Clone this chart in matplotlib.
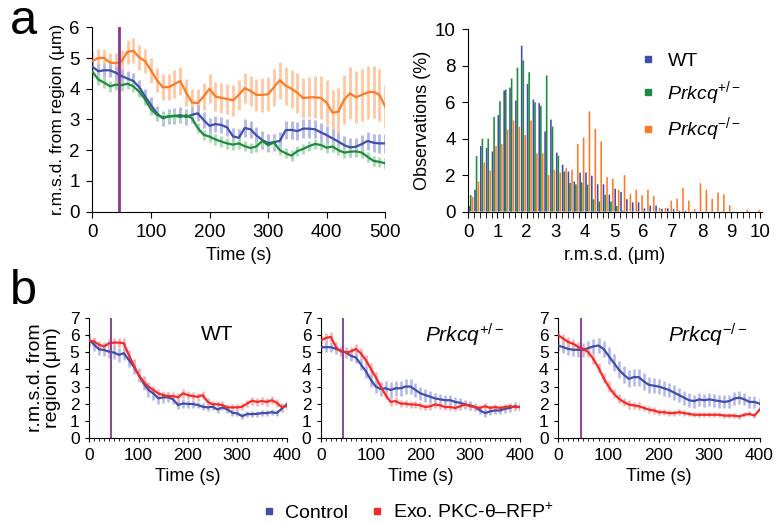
import numpy as np
import matplotlib
matplotlib.use("Agg")
import matplotlib.pyplot as plt
from matplotlib.lines import Line2D

plt.rcParams['font.family'] = ['Liberation Sans', 'DejaVu Sans']
plt.rcParams['mathtext.fontset'] = 'custom'
plt.rcParams['mathtext.rm'] = 'Liberation Sans'
plt.rcParams['mathtext.it'] = 'Liberation Sans:italic'

# ---- panel a, left: r.m.s.d. over time (10 s steps, 0-500 s)
time_a = list(range(0, 501, 10))
wt_a = [4.72, 4.57, 4.60, 4.60, 4.52, 4.41, 4.33, 4.25, 4.05, 3.75,
        3.47, 3.20, 3.04, 3.10, 3.11, 3.14, 3.08, 3.15, 3.20, 2.98,
        2.79, 2.85, 2.82, 2.74, 2.45, 2.40, 2.72, 2.68, 2.48, 2.33,
        2.23, 2.26, 2.30, 2.65, 2.66, 2.62, 2.70, 2.70, 2.68, 2.58,
        2.49, 2.38, 2.28, 2.16, 2.09, 2.11, 2.20, 2.30, 2.24, 2.22,
        2.22]
het_a = [4.56, 4.30, 4.20, 4.08, 4.13, 4.12, 4.16, 4.08, 3.90, 3.65,
         3.33, 3.15, 3.07, 3.10, 3.12, 3.08, 3.14, 3.04, 2.72, 2.50,
         2.44, 2.35, 2.28, 2.22, 2.18, 2.22, 2.13, 2.07, 2.12, 2.30,
         2.16, 2.25, 2.00, 1.90, 1.82, 1.97, 2.04, 2.13, 2.20, 2.17,
         2.08, 2.12, 2.00, 1.92, 1.95, 1.96, 1.92, 1.78, 1.65, 1.62,
         1.57]
ko_a = [4.90, 5.00, 5.00, 4.85, 4.83, 4.90, 5.20, 5.24, 5.02, 4.90,
        4.60, 4.28, 4.05, 4.05, 4.15, 4.25, 3.88, 3.55, 3.53, 3.75,
        4.00, 3.75, 3.70, 3.67, 3.62, 3.80, 4.02, 3.93, 3.80, 3.80,
        3.82, 4.05, 4.28, 4.10, 4.00, 3.87, 3.69, 3.72, 3.72, 3.70,
        3.55, 3.22, 3.25, 3.65, 3.85, 3.72, 3.80, 3.88, 3.90, 3.80,
        3.42]
wt_a_err = [0.22, 0.22, 0.22, 0.22, 0.22, 0.24, 0.24, 0.25, 0.25, 0.25,
            0.25, 0.25, 0.25, 0.25, 0.25, 0.25, 0.25, 0.25, 0.26, 0.26,
            0.26, 0.26, 0.27, 0.27, 0.27, 0.28, 0.28, 0.28, 0.28, 0.28,
            0.28, 0.28, 0.28, 0.29, 0.29, 0.29, 0.30, 0.30, 0.30, 0.30,
            0.30, 0.30, 0.30, 0.30, 0.30, 0.30, 0.30, 0.30, 0.30, 0.30,
            0.30]
het_a_err = [0.18, 0.18, 0.18, 0.18, 0.18, 0.18, 0.18, 0.18, 0.18, 0.18,
             0.18, 0.18, 0.18, 0.18, 0.17, 0.17, 0.17, 0.17, 0.17, 0.17,
             0.17, 0.17, 0.17, 0.17, 0.17, 0.17, 0.17, 0.17, 0.17, 0.17,
             0.17, 0.17, 0.17, 0.17, 0.17, 0.17, 0.17, 0.17, 0.17, 0.17,
             0.17, 0.17, 0.17, 0.17, 0.17, 0.17, 0.17, 0.17, 0.17, 0.17,
             0.17]
ko_a_err = [0.30, 0.30, 0.30, 0.30, 0.32, 0.35, 0.38, 0.40, 0.40, 0.40,
            0.40, 0.40, 0.42, 0.42, 0.45, 0.45, 0.45, 0.45, 0.45, 0.45,
            0.48, 0.48, 0.48, 0.48, 0.50, 0.50, 0.50, 0.50, 0.52, 0.55,
            0.55, 0.60, 0.60, 0.62, 0.62, 0.65, 0.65, 0.65, 0.68, 0.70,
            0.72, 0.75, 0.78, 0.80, 0.85, 0.85, 0.85, 0.85, 0.85, 0.85,
            0.70]

# ---- panel a, right: histogram of r.m.s.d. (0.2 um bins)
bin_left = [round(0.2 * i, 1) for i in range(50)]
wt_hist = [0.3, 1.2, 3.6, 3.5, 3.3, 5.3, 6.65, 6.8, 6.1, 9.1,
           7.0, 6.15, 5.95, 4.4, 5.05, 3.24, 2.57, 2.2, 1.65, 2.14,
           2.14, 1.97, 1.5, 1.5, 0.93, 1.25, 1.07, 0.68, 0.51, 0.51,
           0.18, 0.33, 0.33, 0.15, 0.18, 0.13, 0.05, 0.05, 0, 0,
           0, 0, 0, 0, 0, 0, 0, 0, 0, 0]
het_hist = [0.9, 3.05, 4.0, 4.0, 5.2, 6.05, 6.7, 7.3, 7.9, 8.3,
            7.65, 6.0, 5.8, 7.47, 4.67, 3.06, 2.2, 1.57, 1.5, 1.6,
            1.48, 0.67, 0.55, 0.92, 0.55, 0.31, 0.05, 0, 0, 0,
            0, 0, 0, 0, 0, 0, 0, 0, 0, 0,
            0, 0, 0, 0, 0, 0, 0, 0, 0, 0]
ko_hist = [0.8, 1.65, 2.7, 2.25, 3.6, 3.7, 4.5, 5.0, 4.65, 4.2,
           5.0, 3.2, 3.2, 2.0, 2.29, 2.14, 2.38, 2.29, 3.7, 4.07,
           5.5, 4.54, 3.85, 1.89, 1.8, 1.19, 2.0, 0.95, 1.2, 0.9,
           1.2, 0.85, 0.2, 0.2, 0.6, 0.7, 1.3, 0.6, 0.13, 1.55,
           1.2, 0.7, 1.05, 0.95, 0.35, 0, 0, 0.1, 0, 0.1]

# ---- panel b: control vs exogenous PKC-theta (10 s steps, 0-400 s)
time_b = list(range(0, 401, 10))
wt_ctrl = [5.73, 5.44, 5.18, 5.14, 5.04, 4.99, 4.85, 4.95, 4.56, 4.17,
           3.68, 3.19, 2.80, 2.60, 2.31, 2.37, 2.37, 2.25, 1.92, 2.01,
           1.98, 1.98, 1.92, 1.82, 1.78, 1.82, 1.66, 1.78, 1.66, 1.47,
           1.43, 1.27, 1.39, 1.39, 1.40, 1.45, 1.45, 1.50, 1.45, 1.70,
           1.95]
wt_exo = [5.69, 5.63, 5.44, 5.34, 5.53, 5.57, 5.57, 5.53, 4.85, 4.26,
          3.68, 3.29, 2.99, 2.80, 2.60, 2.50, 2.44, 2.44, 2.37, 2.60,
          2.50, 2.44, 2.40, 2.50, 2.11, 1.96, 1.96, 1.92, 1.78, 1.78,
          1.78, 1.82, 2.01, 2.17, 2.10, 2.15, 2.10, 2.20, 2.05, 1.80,
          1.85]
het_ctrl = [5.3, 5.3, 5.3, 5.2, 5.1, 5.0, 4.8, 4.7, 4.3, 3.9,
            3.4, 3.0, 2.85, 2.9, 2.8, 2.9, 2.9, 3.0, 3.0, 2.8,
            2.6, 2.5, 2.4, 2.3, 2.25, 2.2, 2.2, 2.1, 2.05, 1.95,
            1.9, 1.8, 1.6, 1.45, 1.55, 1.6, 1.6, 1.7, 1.75, 1.85,
            1.8]
het_exo = [5.7, 5.85, 5.9, 5.3, 5.05, 5.0, 5.05, 5.2, 4.95, 4.55,
           4.05, 3.55, 3.0, 2.5, 2.1, 2.15, 2.0, 2.0, 1.95, 1.95,
           1.9, 1.8, 1.85, 1.95, 1.9, 1.8, 1.8, 1.75, 1.85, 1.95,
           1.85, 1.8, 1.75, 1.85, 1.75, 1.8, 1.75, 1.8, 1.85, 1.8,
           1.8]
ko_ctrl = [5.4, 5.3, 5.2, 5.15, 5.15, 5.15, 5.25, 5.35, 5.4, 5.2,
           4.8, 4.4, 4.0, 3.7, 3.45, 3.55, 3.55, 3.3, 3.1, 3.05,
           3.0, 2.9, 2.8, 2.65, 2.5, 2.35, 2.2, 2.15, 2.25, 2.2,
           2.25, 2.2, 2.15, 2.1, 2.15, 2.3, 2.35, 2.25, 2.1, 2.1,
           2.0]
ko_exo = [6.0, 5.8, 5.6, 5.5, 5.3, 5.2, 5.0, 4.6, 4.1, 3.5,
          3.0, 2.6, 2.3, 2.1, 1.95, 1.9, 1.85, 1.75, 1.65, 1.6,
          1.5, 1.5, 1.45, 1.45, 1.5, 1.45, 1.4, 1.35, 1.35, 1.35,
          1.35, 1.35, 1.35, 1.3, 1.3, 1.3, 1.25, 1.35, 1.4, 1.3,
          1.65]
wt_ctrl_err = [0.35, 0.35, 0.35, 0.38, 0.38, 0.40, 0.40, 0.40, 0.42, 0.42,
               0.42, 0.42, 0.40, 0.38, 0.35, 0.32, 0.30, 0.28, 0.25, 0.25,
               0.22, 0.22, 0.20, 0.20, 0.20, 0.20, 0.18, 0.18, 0.18, 0.18,
               0.18, 0.18, 0.18, 0.18, 0.18, 0.18, 0.18, 0.18, 0.18, 0.20,
               0.20]
wt_exo_err = [0.25, 0.25, 0.25, 0.25, 0.25, 0.28, 0.28, 0.28, 0.28, 0.28,
              0.28, 0.28, 0.26, 0.26, 0.25, 0.25, 0.25, 0.25, 0.25, 0.25,
              0.25, 0.25, 0.25, 0.25, 0.22, 0.22, 0.22, 0.22, 0.22, 0.22,
              0.22, 0.22, 0.22, 0.22, 0.22, 0.22, 0.22, 0.22, 0.22, 0.22,
              0.22]
het_ctrl_err = [0.30, 0.30, 0.30, 0.30, 0.30, 0.32, 0.32, 0.35, 0.35, 0.38,
                0.40, 0.40, 0.42, 0.42, 0.45, 0.45, 0.45, 0.45, 0.45, 0.42,
                0.40, 0.38, 0.35, 0.35, 0.32, 0.30, 0.30, 0.28, 0.28, 0.25,
                0.25, 0.25, 0.22, 0.22, 0.22, 0.22, 0.22, 0.22, 0.22, 0.22,
                0.22]
het_exo_err = [0.30, 0.30, 0.30, 0.30, 0.28, 0.28, 0.28, 0.28, 0.30, 0.30,
               0.30, 0.30, 0.28, 0.25, 0.22, 0.22, 0.20, 0.20, 0.20, 0.20,
               0.20, 0.20, 0.20, 0.20, 0.20, 0.20, 0.20, 0.20, 0.20, 0.20,
               0.20, 0.20, 0.20, 0.20, 0.20, 0.20, 0.20, 0.20, 0.20, 0.20,
               0.20]
ko_ctrl_err = [0.35, 0.35, 0.38, 0.38, 0.40, 0.40, 0.42, 0.45, 0.45, 0.48,
               0.50, 0.50, 0.50, 0.50, 0.50, 0.50, 0.50, 0.48, 0.48, 0.45,
               0.45, 0.45, 0.42, 0.42, 0.40, 0.40, 0.40, 0.38, 0.38, 0.38,
               0.38, 0.38, 0.38, 0.38, 0.38, 0.38, 0.38, 0.35, 0.35, 0.35,
               0.35]
ko_exo_err = [0.30, 0.30, 0.30, 0.30, 0.30, 0.30, 0.30, 0.30, 0.30, 0.30,
              0.30, 0.28, 0.28, 0.25, 0.25, 0.22, 0.22, 0.20, 0.20, 0.20,
              0.18, 0.18, 0.18, 0.18, 0.18, 0.15, 0.15, 0.15, 0.15, 0.15,
              0.15, 0.15, 0.15, 0.15, 0.15, 0.15, 0.15, 0.15, 0.15, 0.15,
              0.15]

stim_time = 45

blue = '#3f4ea8'
green = '#1f8a3f'
orange = '#ff7a26'
red = '#f52a2a'
purple = '#8a3591'
blue_lt = '#b3b7ea'
green_lt = '#aadcb3'
orange_lt = '#ffc8a2'
red_lt = '#fbb0b0'


def draw_trace(ax, t, mean, err, col, col_lt, lw_err):
    t = np.array(t)
    mean = np.array(mean)
    err = np.array(err)
    ax.vlines(t, mean - err, mean + err, colors=col_lt, lw=lw_err, zorder=1)
    ax.plot(t, mean, color=col, lw=1.6, zorder=3)


def clean(ax):
    ax.spines['top'].set_visible(False)
    ax.spines['right'].set_visible(False)


fig = plt.figure(figsize=(7.83, 5.25), dpi=100)

# ---------- panel a left
ax1 = fig.add_axes([0.118, 0.597, 0.374, 0.351])
draw_trace(ax1, time_a, ko_a, ko_a_err, orange, orange_lt, 2.0)
draw_trace(ax1, time_a, wt_a, wt_a_err, blue, blue_lt, 2.0)
draw_trace(ax1, time_a, het_a, het_a_err, green, green_lt, 2.0)
ax1.axvline(stim_time, color=purple, lw=2, zorder=4)
ax1.set_xlim(0, 500)
ax1.set_ylim(0, 6)
ax1.set_xticks([0, 100, 200, 300, 400, 500])
ax1.set_yticks(range(7))
ax1.tick_params(labelsize=13.5, length=4, pad=5)
ax1.set_xlabel('Time (s)', fontsize=13, labelpad=4)
ax1.set_ylabel('r.m.s.d. from region (μm)', fontsize=12.5, labelpad=3)
clean(ax1)

# ---------- panel a right: histogram
ax2 = fig.add_axes([0.598, 0.597, 0.375, 0.347])
bl = np.array(bin_left)
ax2.bar(bl + 0.03, wt_hist, width=0.055, color=blue, zorder=2, snap=False, lw=0)
ax2.bar(bl + 0.085, het_hist, width=0.055, color=green, zorder=2, snap=False, lw=0)
ax2.bar(bl + 0.15, ko_hist, width=0.055, color=orange, zorder=2, snap=False, lw=0)
ax2.set_xlim(0, 10.05)
ax2.set_ylim(0, 10)
ax2.set_xticks(range(11))
ax2.set_xticks(np.arange(0, 10.01, 0.2), minor=True)
ax2.set_yticks(range(0, 11, 2))
ax2.tick_params(labelsize=13.5, length=4, pad=5)
ax2.tick_params(which='minor', length=4)
ax2.set_xlabel('r.m.s.d. (μm)', fontsize=13, labelpad=4)
ax2.set_ylabel('Observations (%)', fontsize=13, labelpad=3)
clean(ax2)
hist_handles = [Line2D([], [], ls='', marker='s', ms=5, color=c) for c in (blue, green, orange)]
ax2.legend(hist_handles, ['WT', r'$\mathit{Prkcq}^{+/-}$', r'$\mathit{Prkcq}^{-/-}$'],
           loc='upper right', bbox_to_anchor=(0.99, 0.97), frameon=False, fontsize=14,
           handlelength=0.6, handletextpad=0.7, labelspacing=0.45)

# ---------- panel b
b_pos = [[0.114, 0.166, 0.252, 0.228],
         [0.410, 0.166, 0.254, 0.228],
         [0.713, 0.166, 0.257, 0.228]]
b_ctrl = [wt_ctrl, het_ctrl, ko_ctrl]
b_exo = [wt_exo, het_exo, ko_exo]
b_ctrl_err = [wt_ctrl_err, het_ctrl_err, ko_ctrl_err]
b_exo_err = [wt_exo_err, het_exo_err, ko_exo_err]
b_titles = ['WT', r'$\mathit{Prkcq}^{+/-}$', r'$\mathit{Prkcq}^{-/-}$']
b_title_x = [0.65, 0.72, 0.74]

for i in range(3):
    ax = fig.add_axes(b_pos[i])
    draw_trace(ax, time_b, b_ctrl[i], b_ctrl_err[i], blue, blue_lt, 1.8)
    draw_trace(ax, time_b, b_exo[i], b_exo_err[i], red, red_lt, 1.8)
    ax.axvline(stim_time, color=purple, lw=1.3, zorder=4)
    ax.set_xlim(0, 400)
    ax.set_ylim(0, 7)
    ax.set_xticks([0, 100, 200, 300, 400])
    ax.set_xticks(range(0, 401, 10), minor=True)
    ax.set_yticks(range(8))
    ax.tick_params(labelsize=12.5, length=3, pad=4)
    ax.tick_params(which='minor', length=2)
    ax.set_xlabel('Time (s)', fontsize=13, labelpad=4)
    if i == 0:
        ax.set_ylabel('r.m.s.d. from\nregion (μm)', fontsize=14,
                      labelpad=6, linespacing=1.05)
    ax.text(b_title_x[i], 0.86, b_titles[i], transform=ax.transAxes, ha='center',
            va='center', fontsize=15)
    clean(ax)

b_handles = [Line2D([], [], ls='', marker='s', ms=5, color=c) for c in (blue, red)]
fig.legend(b_handles, ['Control', 'Exo. PKC-θ–RFP$^{+}$'], loc='center',
           bbox_to_anchor=(0.522, 0.025), ncol=2, frameon=False, fontsize=14,
           handlelength=0.6, handletextpad=0.5, columnspacing=1.2)

fig.text(0.012, 0.935, 'a', fontsize=35, va='baseline')
fig.text(0.012, 0.42, 'b', fontsize=35, va='baseline')

fig.savefig('out.png', dpi=100)
